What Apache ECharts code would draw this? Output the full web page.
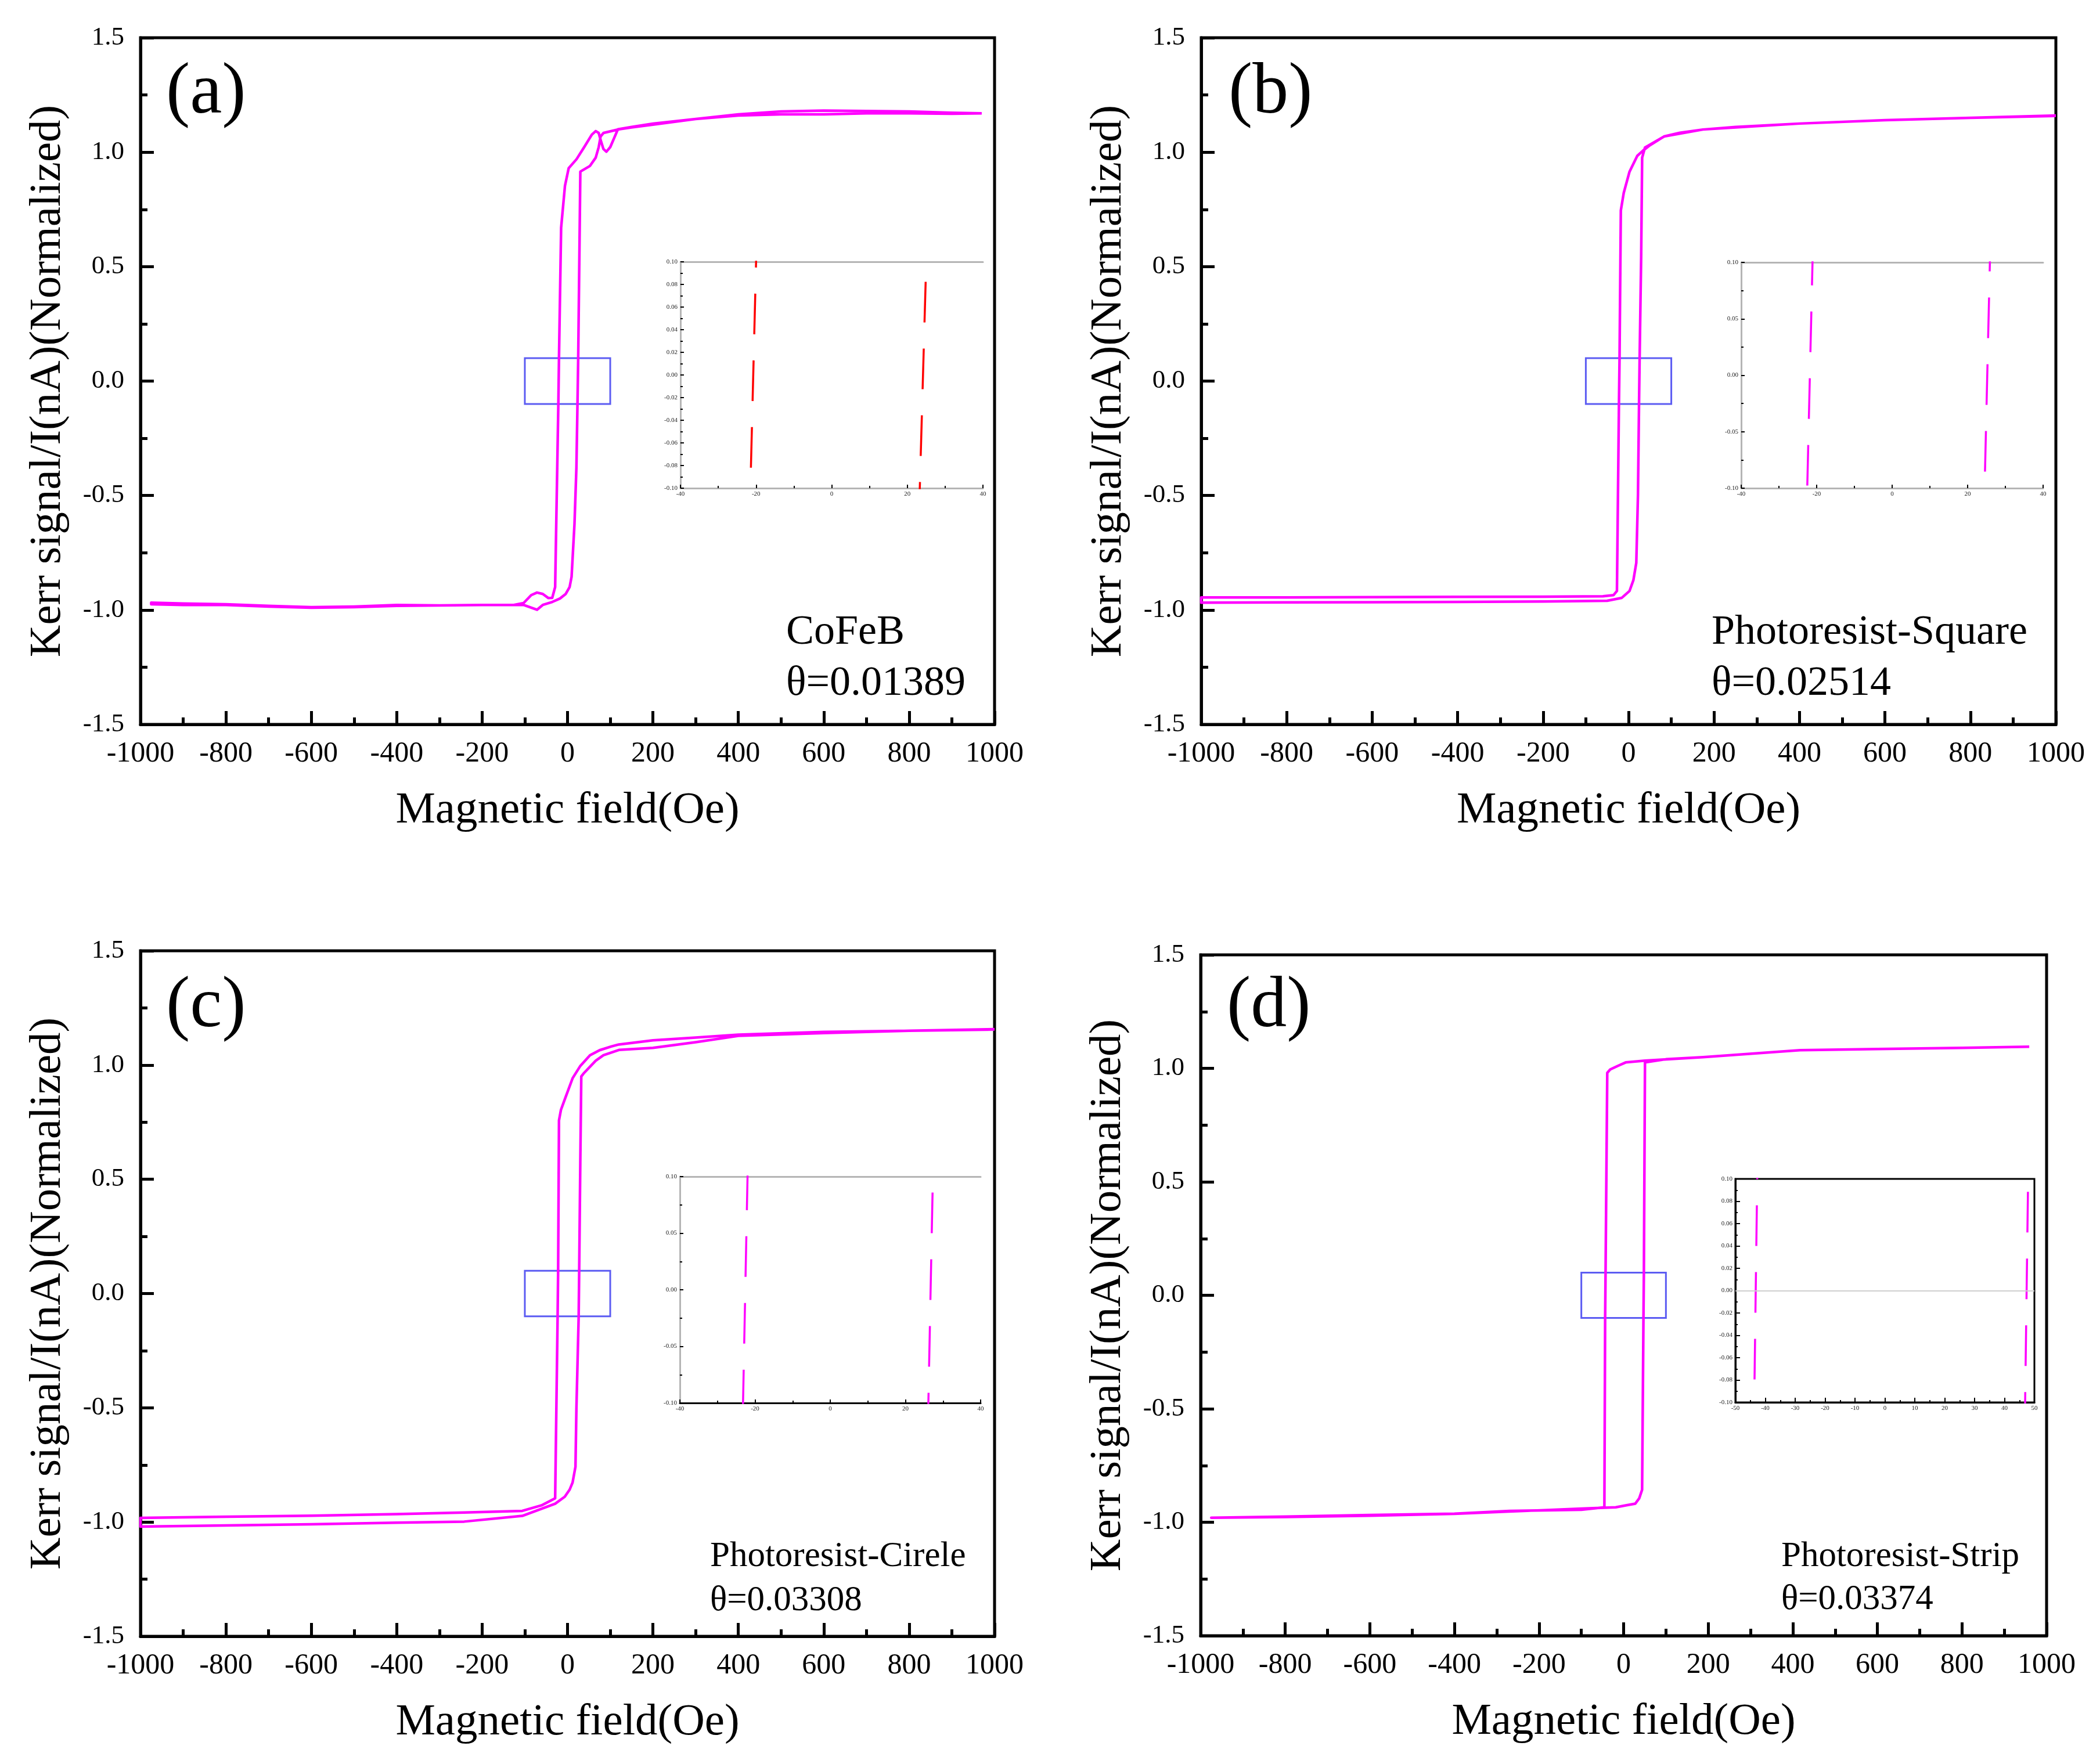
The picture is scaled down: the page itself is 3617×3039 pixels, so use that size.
<!DOCTYPE html>
<html><head><meta charset="utf-8">
<script src="https://cdn.jsdelivr.net/npm/echarts@6/dist/echarts.min.js"></script>
<style>html,body{margin:0;padding:0;background:#fff}#c{width:3617px;height:3039px}</style>
</head><body><div id="c"></div>
<script>
// ---------------- DATA ----------------
const panelLetters = ['(a)', '(b)', '(c)', '(d)'];
const sampleNames = ['CoFeB', 'Photoresist-Square', 'Photoresist-Cirele', 'Photoresist-Strip'];
const thetaTexts = ['θ=0.01389', 'θ=0.02514', 'θ=0.03308', 'θ=0.03374'];
const xTitle = 'Magnetic field(Oe)';
const yTitle = 'Kerr signal/I(nA)(Normalized)';
const fieldRange = [-1000, 1000];
const kerrRange = [-1.5, 1.5];
const zoomBoxField = [-100, 100];
const zoomBoxKerr = [-0.1, 0.1];
const insetFieldRanges = [[-40, 40], [-40, 40], [-40, 40], [-50, 50]];
const insetKerrRange = [-0.1, 0.1];
const insetKerrSteps = [0.02, 0.05, 0.05, 0.02];
const insetFieldSteps = [20, 20, 20, 10];

// (a) CoFeB
const aFieldDown = [970, 900, 800, 700, 600, 500, 400, 300, 200, 150, 118, 109, 100, 91, 84, 77.5, 73, 66, 57, 39, 21, 2.7, -6, -15, -20, -21.5, -29, -35.8, -44.8, -58, -71.5, -85, -103, -126, -200, -300, -400, -500, -600, -700, -800, -900, -975];
const aKerrDown = [1.17, 1.168, 1.17, 1.17, 1.165, 1.165, 1.16, 1.145, 1.125, 1.11, 1.1, 1.061, 1.022, 1.002, 1.014, 1.053, 1.084, 1.092, 1.077, 1.022, 0.969, 0.93, 0.853, 0.67, 0.1, -0.1, -0.9, -0.947, -0.948, -0.93, -0.924, -0.935, -0.97, -0.978, -0.978, -0.98, -0.978, -0.985, -0.988, -0.982, -0.975, -0.972, -0.968];
const aFieldUp = [-975, -900, -800, -700, -600, -500, -400, -300, -200, -103, -85, -71.5, -58, -35.8, -17.7, -4.2, 4.9, 9.5, 16.3, 20.8, 23.3, 25, 30, 52.6, 66, 73, 77.5, 84.3, 120.5, 150, 200, 300, 400, 500, 600, 700, 800, 900, 970];
const aKerrUp = [-0.975, -0.978, -0.978, -0.985, -0.99, -0.988, -0.982, -0.98, -0.978, -0.978, -0.99, -0.999, -0.978, -0.965, -0.95, -0.93, -0.9, -0.855, -0.624, -0.378, -0.1, 0.1, 0.915, 0.94, 0.976, 1.022, 1.069, 1.084, 1.1, 1.108, 1.12, 1.145, 1.165, 1.178, 1.182, 1.18, 1.178, 1.172, 1.17];

// (b) Photoresist-Square
const bFieldDown = [1000, 800, 600, 400, 250, 174, 120, 83.6, 50, 34, 20.4, 2.3, -11.3, -18.1, -21.1, -22.5, -27.2, -35, -60, -200, -400, -600, -800, -1000];
const bKerrDown = [1.16, 1.15, 1.14, 1.125, 1.11, 1.099, 1.085, 1.069, 1.03, 1.007, 0.984, 0.915, 0.822, 0.745, 0.1, -0.1, -0.917, -0.935, -0.94, -0.942, -0.943, -0.944, -0.945, -0.945];
const bFieldUp = [-1000, -800, -600, -400, -200, -50, -15.8, 2.3, 11.3, 18.1, 22, 24.5, 25.9, 29.5, 31.8, 38.3, 83.6, 174, 400, 600, 800, 1000];
const bKerrUp = [-0.968, -0.967, -0.966, -0.965, -0.963, -0.96, -0.947, -0.917, -0.87, -0.794, -0.5, -0.1, 0.1, 0.545, 0.976, 1.02, 1.069, 1.099, 1.125, 1.14, 1.15, 1.158];

// (c) Photoresist-Circle
const cFieldDown = [1000, 800, 600, 400, 300, 200, 120, 102.4, 75.2, 52.6, 29.9, 11.8, -6.4, -15.4, -20, -22, -23.2, -29, -61, -106, -242, -400, -600, -800, -1000];
const cKerrDown = [1.157, 1.15, 1.145, 1.133, 1.12, 1.108, 1.09, 1.081, 1.065, 1.043, 0.996, 0.942, 0.85, 0.804, 0.758, 0.1, -0.1, -0.896, -0.927, -0.951, -0.958, -0.965, -0.972, -0.977, -0.982];
const cFieldUp = [-1000, -800, -600, -400, -242, -106, -29, -6.4, 5, 11.8, 18.6, 20.8, 26.1, 27.3, 29.9, 32.2, 39, 66, 84.2, 120.4, 200, 300, 400, 600, 800, 1000];
const cKerrUp = [-1.02, -1.015, -1.01, -1.003, -0.998, -0.973, -0.92, -0.889, -0.858, -0.827, -0.758, -0.504, -0.1, 0.1, 0.573, 0.95, 0.966, 1.019, 1.043, 1.066, 1.075, 1.1, 1.128, 1.14, 1.15, 1.155];

// (d) Photoresist-Strip
const dFieldDown = [959, 800, 600, 417, 188, 50.5, 4.8, -13.5, -31.8, -38.7, -42.7, -43.7, -45.5, -100, -270, -400, -600, -800, -975];
const dKerrDown = [1.095, 1.09, 1.085, 1.08, 1.049, 1.034, 1.026, 1.011, 0.995, 0.98, 0.1, -0.1, -0.934, -0.945, -0.95, -0.962, -0.968, -0.975, -0.98];
const dFieldUp = [-975, -800, -600, -400, -270, -100, -18.6, 4.8, 27.7, 36.8, 43.7, 46.9, 47.9, 50.5, 100, 188, 417, 600, 800, 959];
const dKerrUp = [-0.982, -0.977, -0.971, -0.963, -0.953, -0.94, -0.934, -0.926, -0.918, -0.895, -0.857, -0.1, 0.1, 1.026, 1.04, 1.049, 1.08, 1.085, 1.09, 1.095];

// ---------------- BUILD ----------------
const F = '"Liberation Serif","Times New Roman",serif';
const MAG = '#ff00ff';
const BOX = '#5c5cf2';

function zip(xs, ys) { return xs.map((x, i) => [x, ys[i]]); }
const loops = [
  zip(aFieldDown, aKerrDown).concat(zip(aFieldUp, aKerrUp)),
  zip(bFieldDown, bKerrDown).concat(zip(bFieldUp, bKerrUp)),
  zip(cFieldDown, cKerrDown).concat(zip(cFieldUp, cKerrUp)),
  zip(dFieldDown, dKerrDown).concat(zip(dFieldUp, dKerrUp))
];

const mainRects = [
  {left: 242, top: 65, width: 1471, height: 1183},
  {left: 2069, top: 65, width: 1472, height: 1183},
  {left: 242, top: 1638, width: 1471, height: 1181},
  {left: 2068, top: 1645, width: 1457, height: 1173}
];
const insetRects = [
  {left: 1172, top: 451, width: 521, height: 390},
  {left: 2999, top: 452, width: 520, height: 389},
  {left: 1171, top: 2027, width: 518, height: 390},
  {left: 2989, top: 2031, width: 515, height: 385}
];
const letterPos = [[286, 161], [2116, 161], [286, 1735], [2113, 1735]];
const notePos = [[1354, 1090, 1178, 72], [2948, 1090, 1178, 72], [1223, 2682, 2758, 61], [3068, 2682, 2756, 61]];

const grids = [], xAxes = [], yAxes = [], series = [], graphics = [];

mainRects.forEach((r, i) => {
  grids.push(Object.assign({show: true, borderColor: '#000', borderWidth: 5, backgroundColor: 'transparent', containLabel: false, outerBoundsMode: 'none'}, r));
});
insetRects.forEach((r, i) => {
  grids.push(Object.assign({show: i === 3, borderColor: '#000', borderWidth: 3, backgroundColor: 'transparent', containLabel: false, outerBoundsMode: 'none'}, r));
});

// main axes
for (let i = 0; i < 4; i++) {
  xAxes.push({
    type: 'value', gridIndex: i, min: fieldRange[0], max: fieldRange[1], interval: 200,
    name: xTitle, nameLocation: 'middle', nameGap: 110,
    nameTextStyle: {fontFamily: F, fontSize: 77, color: '#000'},
    axisLine: {show: true, onZero: false, lineStyle: {color: '#000', width: 5}},
    axisTick: {show: true, inside: true, length: 23, lineStyle: {color: '#000', width: 5}},
    minorTick: {show: true, splitNumber: 2, length: 12, lineStyle: {color: '#000', width: 5}},
    splitLine: {show: false},
    axisLabel: {fontFamily: F, fontSize: 50, color: '#000', margin: 26, formatter: v => String(v)}
  });
  yAxes.push({
    type: 'value', gridIndex: i, min: kerrRange[0], max: kerrRange[1], interval: 0.5,
    name: yTitle, nameLocation: 'middle', nameGap: 121, nameRotate: 90,
    nameTextStyle: {fontFamily: F, fontSize: 77, color: '#000'},
    axisLine: {show: true, onZero: false, lineStyle: {color: '#000', width: 5}},
    axisTick: {show: true, inside: true, length: 23, lineStyle: {color: '#000', width: 5}},
    minorTick: {show: true, splitNumber: 2, length: 12, lineStyle: {color: '#000', width: 5}},
    splitLine: {show: false},
    axisLabel: {fontFamily: F, fontSize: 45, color: '#000', margin: 28, formatter: v => v.toFixed(1)}
  });
}
// inset axes
for (let i = 0; i < 4; i++) {
  const boxed = i === 3;
  const lineCol = boxed ? '#000' : '#b5b5b5';
  xAxes.push({
    type: 'value', gridIndex: 4 + i, min: insetFieldRanges[i][0], max: insetFieldRanges[i][1], interval: insetFieldSteps[i],
    axisLine: {show: true, onZero: false, lineStyle: {color: (i === 2 ? '#000' : lineCol), width: 3}},
    axisTick: {show: true, inside: true, length: boxed ? 8 : 6, lineStyle: {color: '#000', width: 2}},
    minorTick: {show: true, splitNumber: 2, length: 4, lineStyle: {color: '#000', width: 2}},
    splitLine: {show: false},
    axisLabel: {fontFamily: F, fontSize: 11, color: '#222', margin: 5, formatter: v => String(v)}
  });
  yAxes.push({
    type: 'value', gridIndex: 4 + i, min: insetKerrRange[0], max: insetKerrRange[1], interval: insetKerrSteps[i],
    axisLine: {show: true, onZero: false, lineStyle: {color: lineCol, width: 3}},
    axisTick: {show: true, inside: true, length: boxed ? 8 : 6, lineStyle: {color: '#000', width: 2}},
    minorTick: {show: true, splitNumber: 2, length: 4, lineStyle: {color: '#000', width: 2}},
    splitLine: {show: false},
    axisLabel: {fontFamily: F, fontSize: 11, color: '#222', margin: 5, formatter: v => v.toFixed(2)}
  });
}
// top border lines of unboxed insets
for (let i = 0; i < 3; i++) {
  xAxes.push({
    type: 'value', gridIndex: 4 + i, position: 'top', min: insetFieldRanges[i][0], max: insetFieldRanges[i][1],
    axisLine: {show: true, onZero: false, lineStyle: {color: '#b5b5b5', width: 3}},
    axisTick: {show: false}, axisLabel: {show: false}, splitLine: {show: false}
  });
}

loops.forEach((data, i) => {
  series.push({
    type: 'line', xAxisIndex: i, yAxisIndex: i, data: data,
    symbol: 'none', showSymbol: false, animation: false, z: 3,
    lineStyle: {color: MAG, width: 4.5, join: 'round'},
    markArea: {
      silent: true, animation: false,
      itemStyle: {color: 'rgba(0,0,0,0)', borderColor: BOX, borderWidth: 3},
      data: [[{coord: [zoomBoxField[0], zoomBoxKerr[0]]}, {coord: [zoomBoxField[1], zoomBoxKerr[1]]}]]
    }
  });
  const s = {
    type: 'line', xAxisIndex: 4 + i, yAxisIndex: 4 + i, data: data,
    symbol: 'none', showSymbol: false, animation: false, clip: true, z: 3,
    lineStyle: {color: i === 0 ? '#ff0000' : MAG, width: 3.5, type: [70, 45]}
  };
  if (i === 3) {
    s.markLine = {silent: true, symbol: 'none', animation: false, label: {show: false},
      lineStyle: {color: '#cfcfcf', width: 2, type: 'solid'}, data: [{yAxis: 0}]};
  }
  series.push(s);
});

letterPos.forEach((p, i) => {
  graphics.push({type: 'text', x: p[0], y: p[1], z: 10,
    style: {text: panelLetters[i], fontFamily: F, fontSize: 124, fill: '#000', verticalAlign: 'middle', textVerticalAlign: 'middle'}});
});
notePos.forEach((p, i) => {
  graphics.push({type: 'text', x: p[0], y: p[1], z: 10,
    style: {text: sampleNames[i], fontFamily: F, fontSize: p[3], fill: '#000', verticalAlign: 'middle', textVerticalAlign: 'middle'}});
  graphics.push({type: 'text', x: p[0], y: p[2], z: 10,
    style: {text: thetaTexts[i], fontFamily: F, fontSize: p[3], fill: '#000', verticalAlign: 'middle', textVerticalAlign: 'middle'}});
});

const chart = echarts.init(document.getElementById('c'), null, {renderer: 'canvas'});
chart.setOption({
  backgroundColor: '#ffffff',
  animation: false,
  grid: grids, xAxis: xAxes, yAxis: yAxes, series: series, graphic: graphics
});
</script></body></html>
